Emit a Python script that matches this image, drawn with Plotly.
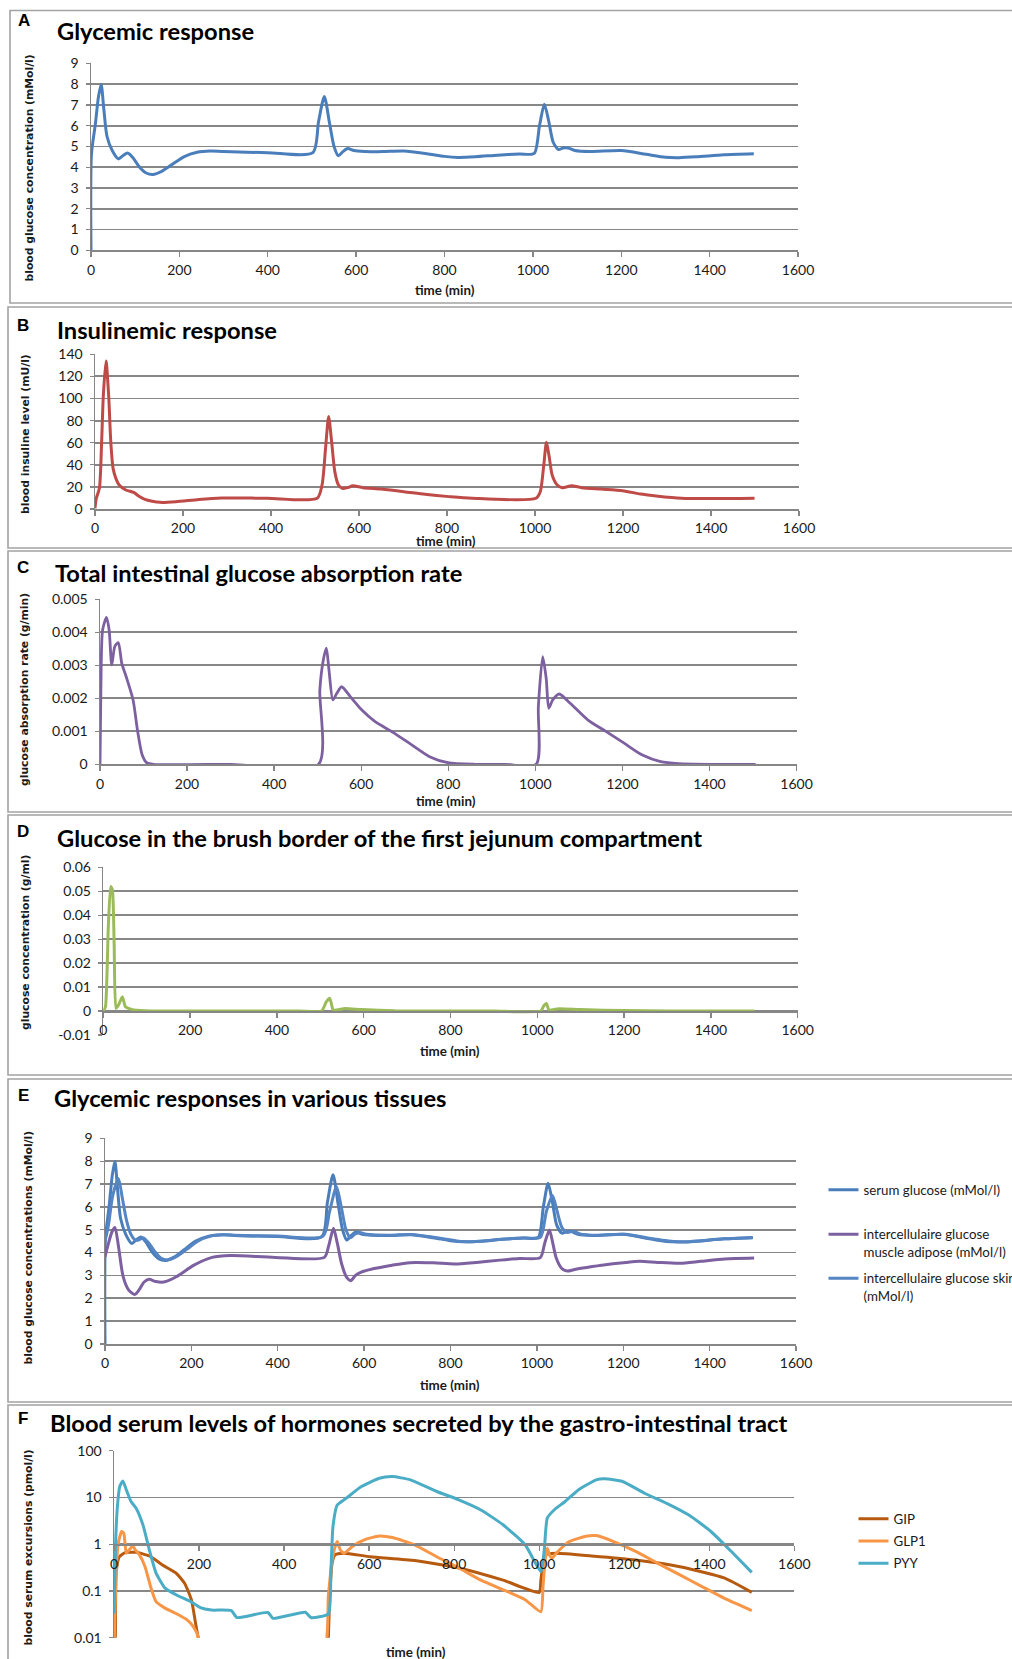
import plotly.graph_objects as go

W, H = 1012, 1659

# ---------------- DATA ----------------
time_tick_vals = [0, 200, 400, 600, 800, 1000, 1200, 1400, 1600]
time_tick_text = ["0", "200", "400", "600", "800", "1000", "1200", "1400", "1600"]

a_y_vals = [0, 1, 2, 3, 4, 5, 6, 7, 8, 9]
a_y_text = ["0", "1", "2", "3", "4", "5", "6", "7", "8", "9"]
b_y_vals = [0, 20, 40, 60, 80, 100, 120, 140]
b_y_text = ["0", "20", "40", "60", "80", "100", "120", "140"]
c_y_vals = [0, 0.001, 0.002, 0.003, 0.004, 0.005]
c_y_text = ["0", "0.001", "0.002", "0.003", "0.004", "0.005"]
d_y_vals = [-0.01, 0, 0.01, 0.02, 0.03, 0.04, 0.05, 0.06]
d_y_text = ["-0.01", "0", "0.01", "0.02", "0.03", "0.04", "0.05", "0.06"]
f_y_vals = [0.01, 0.1, 1, 10, 100]
f_y_text = ["0.01", "0.1", "1", "10", "100"]

# A / E : serum glucose (mMol/l)
glucose_time = [0, 1, 10, 17, 23, 29, 36, 48, 62, 72, 83, 95, 110, 125, 140, 160, 185, 210,
                240, 270, 300, 400, 502, 515, 528, 540, 550, 560, 570, 581, 595, 620, 660,
                708, 760, 800, 830, 870, 920, 970, 1003, 1015, 1026, 1036, 1046, 1058, 1068,
                1080, 1095, 1130, 1200, 1256, 1300, 1330, 1370, 1432, 1500]
glucose_serum = [0, 4.6, 6.1, 7.4, 7.98, 6.8, 5.5, 4.8, 4.4, 4.55, 4.68, 4.45, 4.0, 3.72,
                 3.65, 3.8, 4.15, 4.5, 4.72, 4.78, 4.75, 4.7, 4.7, 6.2, 7.4, 6.1, 5.0, 4.55,
                 4.75, 4.9, 4.8, 4.76, 4.75, 4.78, 4.65, 4.52, 4.47, 4.5, 4.58, 4.64, 4.66,
                 6.0, 7.03, 6.2, 5.2, 4.85, 4.92, 4.92, 4.8, 4.75, 4.8, 4.62, 4.48, 4.46,
                 4.5, 4.6, 4.65]

# B : blood insulin (mU/l)
insulin_time = [0, 3, 10, 15, 19, 25, 31, 36, 41, 48, 55, 70, 88, 100, 112, 130, 148, 184,
                236, 288, 391, 505, 516, 524, 531, 538, 545, 553, 562, 575, 586, 609, 650,
                702, 750, 805, 857, 1002, 1012, 1020, 1026, 1032, 1039, 1050, 1062, 1083,
                1106, 1150, 1199, 1240, 1271, 1333, 1499]
insulin_level = [0.6, 9.7, 18.7, 60, 103, 134, 103, 60, 37, 27, 21.7, 17.2, 15, 11.5, 9, 7,
                 6, 6.6, 8.7, 10, 9.7, 9.7, 21.7, 55, 83.6, 60, 33.8, 22, 18.7, 19.5, 21,
                 19.3, 18, 15.7, 13.3, 11.2, 9.7, 9.7, 15.7, 40, 60.3, 48, 30.8, 22, 19.3,
                 21, 19.3, 18, 16.6, 13.5, 12, 9.7, 9.7]

# C : total intestinal glucose absorption rate (g/min)
absorb_time = [0, 2, 6, 15, 21, 27, 34, 42, 50, 60, 76, 86, 97, 107, 123, 300, 502, 505, 513,
               520, 526, 535, 544, 555, 575, 601, 632, 674, 716, 757, 799, 861, 930, 1002,
               1007, 1017, 1025, 1031, 1040, 1055, 1080, 1121, 1163, 1204, 1246, 1288, 1329,
               1400, 1506]
absorb_rate = [0, 0.00225, 0.00407, 0.00445, 0.00407, 0.00301, 0.00357, 0.00369, 0.00306,
               0.00266, 0.00195, 0.00104, 0.00028, 0.00005, 0, 0, 0, 0.00225, 0.00316,
               0.00352, 0.00286, 0.00195, 0.00215, 0.00235, 0.00205, 0.00165, 0.00129,
               0.00096, 0.00059, 0.00023, 0.00005, 0, 0, 0, 0.00175, 0.00326, 0.0026, 0.0017,
               0.00195, 0.00213, 0.00185, 0.00134, 0.00099, 0.00064, 0.00028, 0.00008,
               0.00002, 0, 0]

# D : glucose in brush border, first jejunum compartment (g/ml)
brush_time = [0, 5, 11.5, 17, 21, 25, 29, 35, 44, 51, 65, 96, 150, 300, 450, 503, 514, 522,
              530, 557, 595, 672, 800, 900, 1008, 1015, 1021, 1027, 1050, 1100, 1200, 1300,
              1400, 1500]
brush_glucose = [0, 0.0018, 0.035, 0.052, 0.0506, 0.028, 0.0011, 0.0025, 0.006, 0.0018,
                 0.0007, 0.0001, 0, 0, 0, 0, 0.0039, 0.0053, 0.0004, 0.0011, 0.0006, 0.0001,
                 0, 0, 0, 0.0022, 0.0032, 0.0004, 0.001, 0.0006, 0.0002, 0, 0, 0]

# E : intercellular glucose skin (mMol/l)
skin_time = [0, 8, 18, 31, 40, 50, 60, 70, 78, 88, 100, 115, 130, 145, 165, 190, 215, 245,
             275, 300, 400, 505, 520, 536, 547, 558, 568, 578, 590, 605, 660, 710, 765, 830,
             870, 920, 970, 1008, 1022, 1036, 1047, 1058, 1070, 1085, 1100, 1135, 1205, 1260,
             1320, 1340, 1380, 1435, 1500]
skin_glucose = [4.5, 5.2, 6.5, 7.24, 6.4, 5.4, 4.8, 4.55, 4.55, 4.65, 4.45, 4.05, 3.75, 3.68,
                3.82, 4.15, 4.5, 4.72, 4.78, 4.76, 4.72, 4.72, 5.8, 6.88, 6.0, 5.0, 4.65, 4.8,
                4.88, 4.8, 4.76, 4.79, 4.66, 4.48, 4.5, 4.58, 4.64, 4.67, 5.8, 6.5, 5.8, 5.1,
                4.88, 4.93, 4.82, 4.76, 4.8, 4.63, 4.48, 4.47, 4.52, 4.6, 4.66]

# E : intercellular glucose muscle adipose (mMol/l)
muscle_time = [0, 8, 16, 23, 31, 42, 55, 69, 80, 90, 102, 118, 139, 165, 206, 248, 290, 394,
               508, 518, 529, 538, 548, 560, 569, 580, 592, 623, 665, 706, 760, 810, 860, 915,
               960, 1008, 1018, 1029, 1037, 1045, 1058, 1071, 1085, 1102, 1150, 1206, 1238,
               1280, 1331, 1380, 1435, 1503]
muscle_glucose = [3.82, 4.4, 4.9, 5.1, 4.3, 2.95, 2.36, 2.17, 2.4, 2.7, 2.83, 2.73, 2.72, 2.94,
                  3.45, 3.79, 3.87, 3.79, 3.79, 4.3, 5.06, 4.4, 3.5, 2.9, 2.77, 3.0, 3.13, 3.3,
                  3.45, 3.56, 3.55, 3.5, 3.57, 3.67, 3.74, 3.78, 4.4, 4.99, 4.4, 3.75, 3.3,
                  3.19, 3.25, 3.31, 3.45, 3.57, 3.62, 3.57, 3.53, 3.62, 3.72, 3.76]

# F : gastro-intestinal hormones (pmol/l)
gip_time = [0, 3, 5, 12.5, 26, 52, 83, 114, 146, 166, 182, 192, 200, 205, 500, 504, 507, 513,
            520, 541, 603, 707, 811, 915, 1000, 1004, 1009, 1014, 1040, 1123, 1227, 1331, 1435,
            1500]
gip_level = [0.005, 0.01, 0.24, 0.54, 0.66, 0.67, 0.56, 0.36, 0.24, 0.146, 0.065, 0.02, 0.008,
             0.005, 0.005, 0.01, 0.065, 0.39, 0.59, 0.64, 0.54, 0.45, 0.31, 0.17, 0.093, 0.17,
             0.39, 0.59, 0.64, 0.56, 0.46, 0.33, 0.19, 0.093]

glp1_time = [0, 5, 10, 18, 23, 29, 36, 44, 50, 60, 73, 86, 99, 120, 146, 172, 187, 200, 206,
             492, 504, 512, 518, 525, 532, 541, 562, 593, 624, 655, 707, 759, 811, 863, 915,
             967, 1004, 1009, 1014, 1019, 1024, 1030, 1040, 1071, 1113, 1134, 1175, 1227,
             1279, 1331, 1383, 1435, 1500]
glp1_level = [0.005, 0.24, 1.05, 1.87, 1.72, 0.64, 0.76, 0.92, 0.76, 0.59, 0.33, 0.124, 0.059,
              0.043, 0.033, 0.024, 0.017, 0.0095, 0.005, 0.005, 0.076, 0.39, 0.76, 1.14, 0.76,
              0.64, 0.92, 1.28, 1.5, 1.39, 0.97, 0.54, 0.31, 0.17, 0.106, 0.065, 0.036, 0.124,
              0.46, 0.82, 0.59, 0.5, 0.64, 1.14, 1.5, 1.53, 1.14, 0.7, 0.39, 0.22, 0.124,
              0.07, 0.038]

pyy_time = [0, 4, 8, 13.5, 21, 29, 40, 52, 68, 83, 99, 120, 146, 182, 203, 229, 276, 289, 362,
            374, 450, 463, 504, 510, 515, 525, 546, 582, 624, 655, 697, 759, 811, 863, 915,
            967, 1004, 1012, 1019, 1035, 1061, 1092, 1134, 1154, 1196, 1248, 1300, 1352, 1404,
            1456, 1500]
pyy_level = [0.033, 1.24, 6.4, 17.1, 22.6, 14.5, 8.2, 5.9, 2.6, 0.76, 0.24, 0.115, 0.083,
             0.058, 0.044, 0.039, 0.038, 0.027, 0.0346, 0.026, 0.035, 0.027, 0.032, 0.24, 2.4,
             6.9, 9.6, 17.1, 25.8, 28, 23.8, 13.4, 8.9, 5.4, 2.6, 0.97, 0.26, 0.76, 3.6, 5.4,
             8.2, 14.5, 23.8, 25, 21.9, 12.3, 7.5, 4.2, 1.87, 0.64, 0.25]

# ---------------- STYLE / LAYOUT ----------------
BLUE = "#4a7ebb"
BLUE2 = "#5585c2"
RED = "#be4b48"
PURPLE = "#7d60a0"
GREEN = "#9bbb59"
BROWN = "#b65a10"
ORANGE = "#f79646"
AQUA = "#4bacc6"
GRID = "#878787"
AXIS = "#868686"
TICKFONT = dict(family="Lato, Liberation Sans, sans-serif", size=14, color="#1a1a1a")


def fx(px):
    return px / W


def fy(py):
    return 1 - py / H


def xdom(l, r):
    return [fx(l), fx(r)]


def ydom(top, bottom):
    return [fy(bottom), fy(top)]


def xaxis_cfg(dom, anchor=None, position=None):
    d = dict(domain=dom, range=[0, 1600], tickmode="array", tickvals=time_tick_vals,
             ticktext=time_tick_text, showgrid=False, zeroline=False, showline=True,
             linecolor=AXIS, linewidth=1.5, ticks="outside", ticklen=5, tickcolor=AXIS,
             tickwidth=1.3, tickfont=TICKFONT, ticklabelstandoff=1, fixedrange=True)
    if position is not None:
        d.update(anchor="free", position=position)
    else:
        d.update(anchor=anchor)
    return d


def yaxis_cfg(dom, anchor, rng, vals, text, log=False):
    d = dict(domain=dom, anchor=anchor, range=rng, tickmode="array", tickvals=vals,
             ticktext=text, showgrid=True, gridcolor=GRID, gridwidth=1.8, zeroline=False,
             showline=True, linecolor=AXIS, linewidth=1.5, ticks="outside", ticklen=4,
             tickcolor=AXIS, tickwidth=1.3, tickfont=TICKFONT, ticklabelstandoff=4,
             fixedrange=True)
    if log:
        d["type"] = "log"
    return d


fig = go.Figure()

line_kw = dict(shape="spline", smoothing=0.7)

fig.add_trace(go.Scatter(x=glucose_time, y=glucose_serum, mode="lines", xaxis="x", yaxis="y",
                         line=dict(color=BLUE, width=3, **line_kw), showlegend=False))
fig.add_trace(go.Scatter(x=insulin_time, y=insulin_level, mode="lines", xaxis="x2", yaxis="y2",
                         line=dict(color=RED, width=3, **line_kw), showlegend=False))
fig.add_trace(go.Scatter(x=absorb_time, y=absorb_rate, mode="lines", xaxis="x3", yaxis="y3",
                         line=dict(color=PURPLE, width=2.8, **line_kw), showlegend=False))
fig.add_trace(go.Scatter(x=brush_time, y=brush_glucose, mode="lines", xaxis="x4", yaxis="y4",
                         line=dict(color=GREEN, width=3, shape="spline", smoothing=0.5),
                         showlegend=False))

fig.add_trace(go.Scatter(x=glucose_time, y=glucose_serum, mode="lines", xaxis="x5", yaxis="y5",
                         name="serum glucose (mMol/l)", legend="legend",
                         line=dict(color=BLUE, width=3, **line_kw)))
fig.add_trace(go.Scatter(x=muscle_time, y=muscle_glucose, mode="lines", xaxis="x5", yaxis="y5",
                         name="intercellulaire glucose<br>muscle adipose (mMol/l)",
                         legend="legend2", line=dict(color=PURPLE, width=3, **line_kw)))
fig.add_trace(go.Scatter(x=skin_time, y=skin_glucose, mode="lines", xaxis="x5", yaxis="y5",
                         name="intercellulaire glucose skin<br>(mMol/l)", legend="legend3",
                         line=dict(color=BLUE2, width=3, **line_kw)))

fig.add_trace(go.Scatter(x=gip_time, y=gip_level, mode="lines", xaxis="x6", yaxis="y6",
                         name="GIP", legend="legend4", legendgroup="gip",
                         line=dict(color=BROWN, width=3, shape="spline", smoothing=0.5)))
fig.add_trace(go.Scatter(x=glp1_time, y=glp1_level, mode="lines", xaxis="x6", yaxis="y6",
                         name="GLP1", legend="legend4", legendgroup="glp1",
                         line=dict(color=ORANGE, width=3, shape="spline", smoothing=0.5)))
fig.add_trace(go.Scatter(x=pyy_time, y=pyy_level, mode="lines", xaxis="x6", yaxis="y6",
                         name="PYY", legend="legend4", legendgroup="pyy",
                         line=dict(color=AQUA, width=3, shape="spline", smoothing=0.5)))

# plot-area geometry (pixels in the 1012x1659 page)
A_dom = (xdom(91, 798), ydom(63.3, 250.3))
B_dom = (xdom(95, 799), ydom(354.3, 509))
C_dom = (xdom(100, 796.5), ydom(599.3, 764.3))
D_dom = (xdom(103.3, 797.7), ydom(867.3, 1035))
E_dom = (xdom(105, 796), ydom(1138.3, 1344))
F_dom = (xdom(114, 794.3), ydom(1450.7, 1637.7))

layout = dict(
    width=W, height=H, margin=dict(l=0, r=0, t=0, b=0, autoexpand=False),
    paper_bgcolor="white", plot_bgcolor="white",
    xaxis=xaxis_cfg(A_dom[0], anchor="y"),
    yaxis=yaxis_cfg(A_dom[1], "x", [0, 9], a_y_vals, a_y_text),
    xaxis2=xaxis_cfg(B_dom[0], anchor="y2"),
    yaxis2=yaxis_cfg(B_dom[1], "x2", [0, 140], b_y_vals, b_y_text),
    xaxis3=xaxis_cfg(C_dom[0], anchor="y3"),
    yaxis3=yaxis_cfg(C_dom[1], "x3", [0, 0.005], c_y_vals, c_y_text),
    xaxis4=xaxis_cfg(D_dom[0], position=fy(1011)),
    yaxis4=yaxis_cfg(D_dom[1], "x4", [-0.01, 0.06], d_y_vals, d_y_text),
    xaxis5=xaxis_cfg(E_dom[0], anchor="y5"),
    yaxis5=yaxis_cfg(E_dom[1], "x5", [0, 9], a_y_vals, a_y_text),
    xaxis6=xaxis_cfg(F_dom[0], position=fy(1544.3)),
    yaxis6=yaxis_cfg(F_dom[1], "x6", [-2, 2], f_y_vals, f_y_text, log=True),
)

LEGFONT = dict(family="Lato, Liberation Sans, sans-serif", size=13.3, color="#1a1a1a")
leg_common = dict(xanchor="left", yanchor="top", bgcolor="rgba(0,0,0,0)", borderwidth=0,
                  font=LEGFONT, valign="top", itemclick=False, itemdoubleclick=False)
layout["legend"] = dict(x=fx(823.5), y=fy(1174.5), **leg_common)
layout["legend2"] = dict(x=fx(823.5), y=fy(1219), **leg_common)
layout["legend3"] = dict(x=fx(823.5), y=fy(1263), **leg_common)
layout["legend4"] = dict(x=fx(853.5), y=fy(1503.5), tracegroupgap=2, **leg_common)

fig.update_layout(**layout)

# panel frames
panels = [(10, 303), (8, 548), (8, 812), (8, 1075), (8, 1402), (8, 1670)]
tops = [10.5, 307, 551, 815, 1079, 1405]
for (left, bottom), top in zip(panels, tops):
    fig.add_shape(type="rect", xref="paper", yref="paper", x0=fx(left), x1=fx(1030),
                  y0=fy(bottom), y1=fy(top), line=dict(color="#a3a3a3", width=1.6),
                  fillcolor="rgba(0,0,0,0)", layer="below")

# annotations
TITLEFONT = dict(family="Lato, Liberation Sans, sans-serif", size=23.7, color="black")
LETTERFONT = dict(family="Liberation Sans, Arial, sans-serif", size=17, color="black")
YTFONT = dict(family="DejaVu Sans, Verdana, sans-serif", size=10.8, color="#1a1a1a")
XTFONT = dict(family="Lato, Liberation Sans, sans-serif", size=13.4, color="#1a1a1a")

letters = [("A", 24, 21), ("B", 23, 325), ("C", 23, 567), ("D", 23, 831), ("E", 23, 1095),
           ("F", 23, 1418)]
titles = [("Glycemic response", 55, 31), ("Insulinemic response", 55, 330),
          ("Total intestinal glucose absorption rate", 53, 573),
          ("Glucose in the brush border of the first jejunum compartment", 55, 838),
          ("Glycemic responses in various tissues", 52, 1098),
          ("Blood serum levels of hormones secreted by the gastro-intestinal tract", 48, 1423)]
ytitles = [("blood glucose concentration (mMol/l)", 29.5, 168),
           ("blood insuline level (mU/l)", 25, 434),
           ("glucose absorption rate (g/min)", 25, 690),
           ("glucose concentration (g/ml)", 25, 943),
           ("blood glucose concentrations (mMol/l)", 27.5, 1248),
           ("blood serum excursions (pmol/l)", 27.5, 1548)]
xtitles = [(445, 290), (446, 541), (446, 801), (450, 1051), (450, 1385), (416, 1652)]

ann = []
for t, x, y in letters:
    ann.append(dict(text="<b>%s</b>" % t, x=fx(x), y=fy(y), xref="paper", yref="paper",
                    xanchor="center", yanchor="middle", showarrow=False, font=LETTERFONT))
for t, x, y in titles:
    ann.append(dict(text="<b>%s</b>" % t, x=fx(x), y=fy(y), xref="paper", yref="paper",
                    xanchor="left", yanchor="middle", showarrow=False, font=TITLEFONT))
for t, x, y in ytitles:
    ann.append(dict(text="<b>%s</b>" % t, x=fx(x), y=fy(y), xref="paper", yref="paper",
                    xanchor="center", yanchor="middle", showarrow=False, textangle=-90,
                    font=YTFONT))
for x, y in xtitles:
    ann.append(dict(text="<b>time (min)</b>", x=fx(x), y=fy(y), xref="paper", yref="paper",
                    xanchor="center", yanchor="middle", showarrow=False, font=XTFONT))
fig.update_layout(annotations=ann)

fig.write_html("out.html", config={"displayModeBar": False, "staticPlot": True},
               post_script="document.body.style.margin='0px';"
                           "document.body.style.overflow='hidden';")
